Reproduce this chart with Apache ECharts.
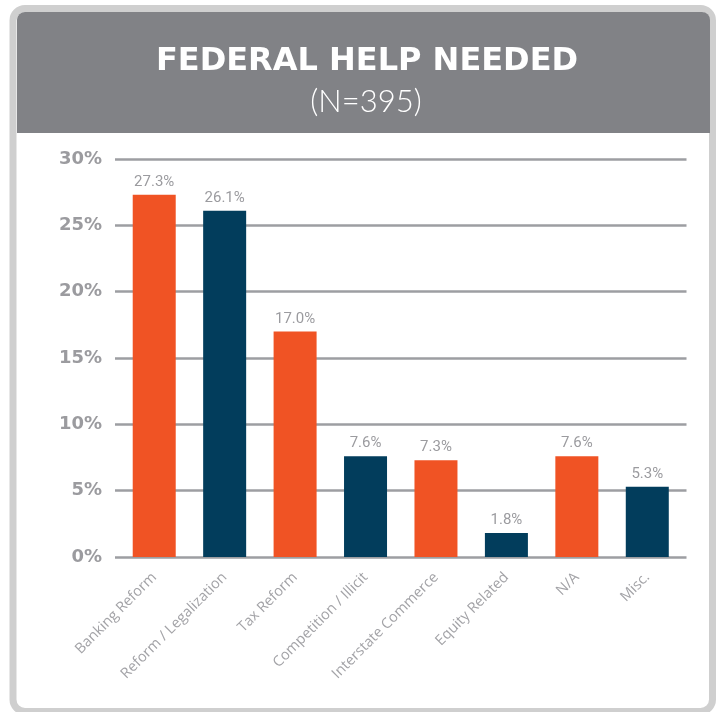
<!DOCTYPE html>
<html>
<head>
<meta charset="utf-8">
<title>Federal Help Needed</title>
<script src="https://cdn.jsdelivr.net/npm/echarts@6/dist/echarts.min.js"></script>
<style>
  html, body { margin: 0; padding: 0; background: #ffffff; }
  #chart { width: 716px; height: 712px; }
</style>
</head>
<body>
<div id="chart"></div>
<script>
// Survey responses: where federal help is needed (share of respondents)
const categories = [
  'Banking Reform',
  'Reform / Legalization',
  'Tax Reform',
  'Competition / Illicit',
  'Interstate Commerce',
  'Equity Related',
  'N/A',
  'Misc.'
];
const shares = [27.3, 26.1, 17.0, 7.6, 7.3, 1.8, 7.6, 5.3];
const yTicks = [0, 5, 10, 15, 20, 25, 30];

const titleText = 'FEDERAL HELP NEEDED';
const sampleText = '(N=395)';

const ORANGE = '#F05324';
const NAVY = '#023D5C';
const GREY_TEXT = '#9B9B9F';

const chart = echarts.init(document.getElementById('chart'), null, { renderer: 'canvas' });

const option = {
  backgroundColor: '#ffffff',
  animation: false,
  graphic: [
    {
      // outer card with light grey border
      type: 'rect',
      z: -10,
      shape: { x: 13, y: 8.5, width: 699.5, height: 703, r: 12 },
      style: { fill: '#ffffff', stroke: '#CFCFCF', lineWidth: 7 }
    },
    {
      // dark grey header band
      type: 'rect',
      z: -9,
      shape: { x: 17, y: 12, width: 693, height: 121, r: [8, 8, 0, 0] },
      style: { fill: '#818286' }
    }
  ],
  title: [
    {
      text: titleText,
      left: 362,
      top: 41,
      textAlign: 'center',
      textStyle: {
        fontFamily: 'DejaVu Sans',
        fontWeight: 'bold',
        fontSize: 32,
        color: '#ffffff'
      }
    },
    {
      text: sampleText,
      left: 361,
      top: 81,
      textAlign: 'center',
      textStyle: {
        fontFamily: 'Lato',
        fontWeight: 300,
        fontSize: 31,
        color: '#ffffff'
      }
    }
  ],
  grid: [
    { left: 115, right: 29.5, top: 159, bottom: 155, containLabel: false },
    { left: 119, right: 33.5, top: 159, bottom: 155, containLabel: false }
  ],
  xAxis: [
    {
      gridIndex: 0,
      type: 'value',
      show: false,
      min: 0,
      max: 1
    },
    {
      gridIndex: 1,
      type: 'category',
      data: categories,
      axisLine: { show: false },
      axisTick: { show: false },
      axisLabel: {
        interval: 0,
        rotate: 45,
        margin: 18,
        fontFamily: 'Open Sans',
        fontSize: 14.5,
        color: '#A3A3A7'
      }
    }
  ],
  yAxis: [
    {
      gridIndex: 0,
      type: 'value',
      min: yTicks[0],
      max: yTicks[yTicks.length - 1],
      interval: 5,
      axisLine: { show: false },
      axisTick: { show: false },
      axisLabel: {
        margin: 13,
        formatter: '{value}%',
        fontFamily: 'DejaVu Sans',
        fontWeight: 'bold',
        fontSize: 18,
        color: GREY_TEXT
      },
      splitLine: {
        show: true,
        lineStyle: { color: '#9D9EA2', width: 2.6 }
      }
    },
    {
      gridIndex: 1,
      type: 'value',
      min: yTicks[0],
      max: yTicks[yTicks.length - 1],
      interval: 5,
      show: false,
      splitLine: { show: false }
    }
  ],
  series: [
    {
      type: 'bar',
      xAxisIndex: 1,
      yAxisIndex: 1,
      data: shares,
      barWidth: 43,
      itemStyle: {
        color: function (p) { return p.dataIndex % 2 === 0 ? ORANGE : NAVY; }
      },
      label: {
        show: true,
        position: 'top',
        distance: 5,
        formatter: function (p) { return p.value.toFixed(1) + '%'; },
        fontFamily: 'Roboto',
        fontSize: 15,
        color: GREY_TEXT
      },
      z: 3
    }
  ]
};

chart.setOption(option);
</script>
</body>
</html>
